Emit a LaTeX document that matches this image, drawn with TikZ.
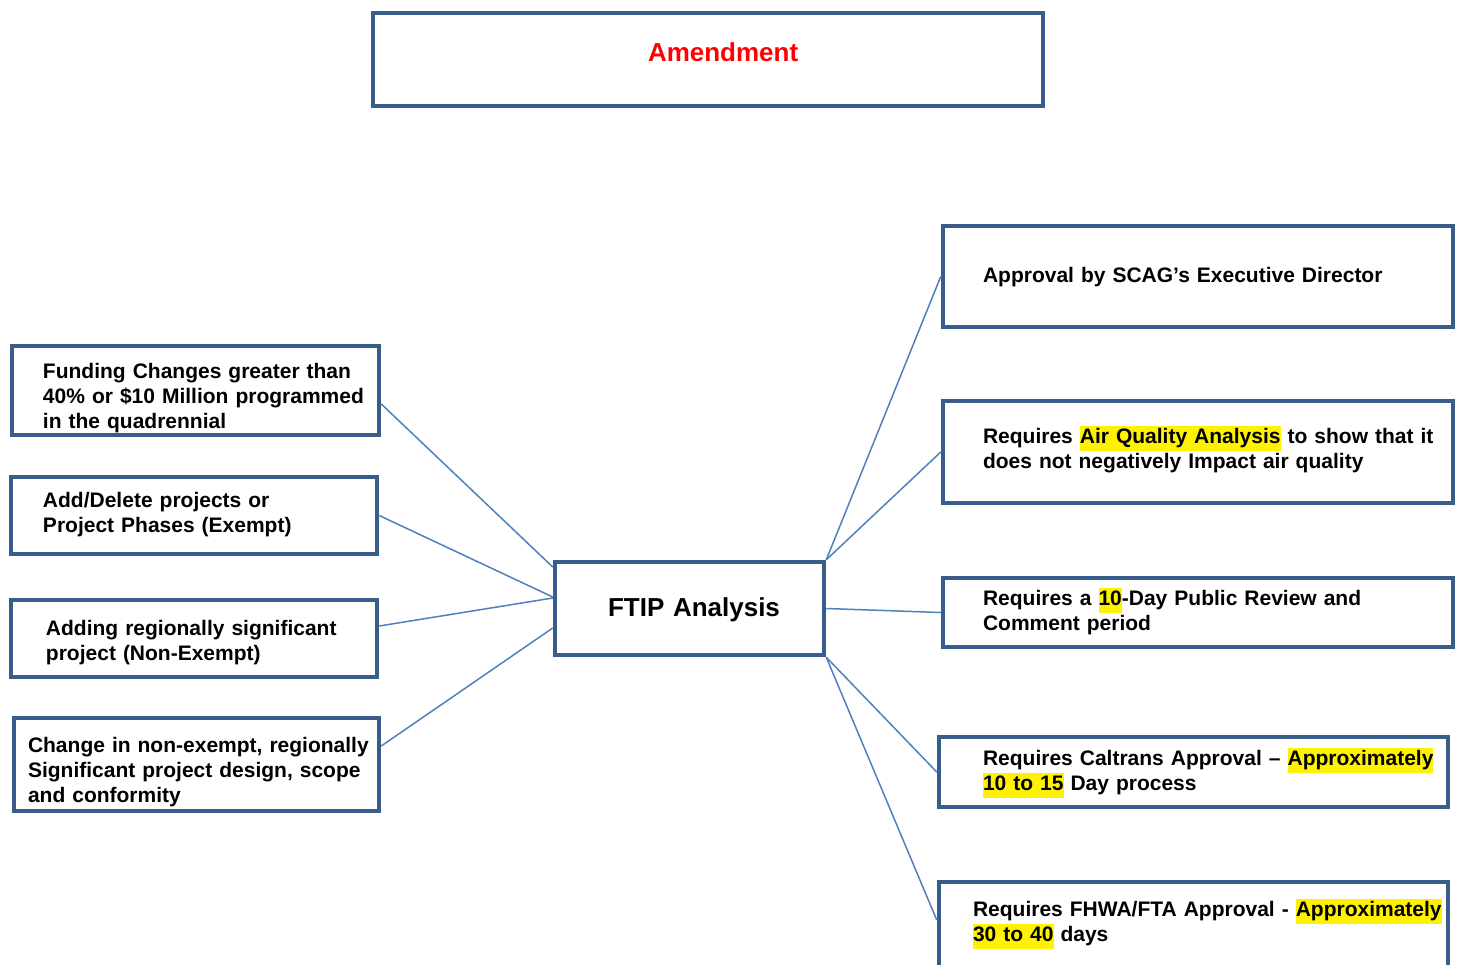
\documentclass[tikz,border=0pt]{standalone}
\usepackage{fontspec}
\setmainfont{Liberation Sans}
\usetikzlibrary{calc}
\definecolor{boxblue}{HTML}{385D8A}
\definecolor{lineblue}{HTML}{4F81BD}
\definecolor{amred}{HTML}{FF0000}
\newcommand\padtxt[2]{\leftskip=#1\relax\rightskip=-80pt plus 1fil\relax #2\par}
\newcommand\hlt[1]{{\setlength{\fboxsep}{0pt}\colorbox{yellow}{\strut#1}}}
\newcommand\bodyf{\fontsize{21}{25}\selectfont\bfseries}
\newcommand\bigf{\fontsize{26}{30}\selectfont\bfseries}
\begin{document}
\begin{tikzpicture}[x=1pt,y=-1pt,
  bx/.style={draw=boxblue, line width=4.5pt, inner sep=0pt, align=left, font=\bodyf},
  link/.style={draw=lineblue, line width=1.5pt}]
\fill[white] (0,0) rectangle (1464,964);
\useasboundingbox (0,0) rectangle (1464,964);

\node[bx, font=\bigf, text=amred, minimum width=670pt, text width=670pt, minimum height=93pt, text height=31.8pt, text depth=28.2pt] (amend) at (708,59.5) {\padtxt{275pt}{Amendment}};

\node[bx, minimum width=367pt, text width=367pt, minimum height=89pt, text height=17.5pt, text depth=42.5pt] (fund) at (195.5,390.5)
  {\padtxt{31pt}{Funding Changes greater than\\40\% or \$10 Million programmed\\in the quadrennial}};
\node[bx, minimum width=366pt, text width=366pt, minimum height=77pt, text height=21.5pt, text depth=38.5pt] (adddel) at (194,515.5)
  {\padtxt{32pt}{Add/Delete projects or\\Project Phases (Exempt)}};
\node[bx, minimum width=366pt, text width=366pt, minimum height=77pt, text height=26.5pt, text depth=33.5pt] (adding) at (194,638.5)
  {\padtxt{35pt}{Adding regionally significant\\project (Non-Exempt)}};
\node[bx, minimum width=365pt, text width=365pt, minimum height=93pt, text height=17.5pt, text depth=42.5pt] (change) at (196.5,764.5)
  {\padtxt{14pt}{Change in non-exempt, regionally\\Significant project design, scope\\and conformity}};

\node[bx, font=\bigf, minimum width=269pt, text width=269pt, minimum height=93pt, text height=37.5pt, text depth=22.5pt] (ftip) at (689.5,608.5)
  {\padtxt{53pt}{FTIP Analysis}};

\node[bx, minimum width=510pt, text width=510pt, minimum height=101pt, text height=35.5pt, text depth=24.5pt] (scag) at (1198,276.5)
  {\padtxt{40pt}{Approval by SCAG’s Executive Director}};
\node[bx, minimum width=510pt, text width=510pt, minimum height=102pt, text height=21pt, text depth=39pt] (air) at (1198,452)
  {\padtxt{40pt}{Requires \hlt{Air Quality Analysis} to show that it\\does not negatively Impact air quality}};
\node[bx, minimum width=510pt, text width=510pt, minimum height=69pt, text height=22.5pt, text depth=37.5pt] (tenday) at (1198,612.5)
  {\padtxt{40pt}{Requires a \hlt{10}-Day Public Review and\\Comment period}};
\node[bx, minimum width=509pt, text width=509pt, minimum height=70pt, text height=23pt, text depth=37pt] (caltrans) at (1193.5,772)
  {\padtxt{44pt}{Requires Caltrans Approval – \hlt{Approximately}\\\hlt{10 to 15} Day process}};
\node[bx, minimum width=509pt, text width=509pt, minimum height=110pt, text height=9pt, text depth=51pt] (fhwa) at (1193.5,937)
  {\padtxt{34pt}{Requires FHWA/FTA Approval - \hlt{Approximately}\\\hlt{30 to 40} days}};

\draw[link] ($(fund.east)+(0,13.5)$) -- ($(ftip.west)+(0,-41.5)$);
\draw[link] (adddel.east) -- ($(ftip.west)+(0,-11.5)$);
\draw[link] ($(adding.east)+(0,-12.5)$) -- ($(ftip.west)+(0,-10.5)$);
\draw[link] ($(change.east)+(0,-18.5)$) -- ($(ftip.west)+(0,19.5)$);
\draw[link] (ftip.north east) -- (scag.west);
\draw[link] (ftip.north east) -- (air.west);
\draw[link] (ftip.east) -- (tenday.west);
\draw[link] (ftip.south east) -- (caltrans.west);
\draw[link] (ftip.south east) -- ($(fhwa.west)+(0,-17)$);
\end{tikzpicture}
\end{document}
